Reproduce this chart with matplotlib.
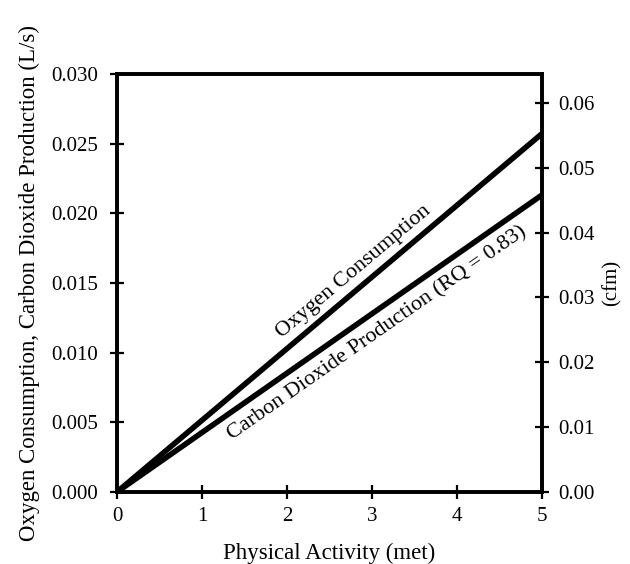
import numpy as np
import matplotlib
matplotlib.use('Agg')
import matplotlib.pyplot as plt

plt.rcParams['font.family'] = ['Liberation Serif', 'DejaVu Serif']

# data: metabolic rate vs gas flow (L/s)
met = [0, 5]
oxygen = [0.0, 0.0257]
carbon = [0.0, 0.0213]

x_ticks = [0, 1, 2, 3, 4, 5]
y_ticks = [0.000, 0.005, 0.010, 0.015, 0.020, 0.025, 0.030]
cfm_ticks = [0.00, 0.01, 0.02, 0.03, 0.04, 0.05, 0.06]

fig = plt.figure(figsize=(6.3, 5.64), dpi=100)
ax = fig.add_axes([0.186, 0.128, 0.674, 0.741])

ax.plot(met, oxygen, color='black', lw=4.0, solid_capstyle='butt')
ax.plot(met, carbon, color='black', lw=4.0, solid_capstyle='butt')

ax.set_xlim(0, 5)
ax.set_ylim(0, 0.030)
ax.set_xticks(x_ticks)
ax.set_yticks(y_ticks)
ax.set_yticklabels(['%.3f' % v for v in y_ticks])
ax.tick_params(direction='inout', length=10, width=1.6, labelsize=15)
ax.tick_params(axis='x', pad=6)
ax.tick_params(axis='y', pad=9)
for s in ax.spines.values():
    s.set_linewidth(2.6)

ax2 = ax.twinx()
ax2.set_ylim(0, 0.0645)
ax2.set_yticks(cfm_ticks)
ax2.set_yticklabels(['%.2f' % v for v in cfm_ticks])
ax2.tick_params(direction='inout', length=10, width=1.6, labelsize=15, pad=7)
for s in ax2.spines.values():
    s.set_linewidth(2.6)

ax.set_xlabel('Physical Activity (met)', fontsize=16.5, labelpad=12)
ax.set_ylabel('Oxygen Consumption, Carbon Dioxide Production (L/s)', fontsize=16.5, labelpad=8)
ax2.set_ylabel('(cfm)', fontsize=15, labelpad=5)

# labels along the lines
a1 = ax.transData.transform_angles(np.array([np.degrees(np.arctan2(oxygen[1], met[1]))]),
                                   np.array([[0, 0]]))[0]
a2 = ax.transData.transform_angles(np.array([np.degrees(np.arctan2(carbon[1], met[1]))]),
                                   np.array([[0, 0]]))[0]
ax.text(2.78, 0.0158, 'Oxygen Consumption', rotation=a1, ha='center', va='center',
        fontsize=16, rotation_mode='anchor')
ax.text(3.06, 0.0114, 'Carbon Dioxide Production (RQ = 0.83)', rotation=a2, ha='center',
        va='center', fontsize=16, rotation_mode='anchor')

fig.savefig('out.png', dpi=100)
